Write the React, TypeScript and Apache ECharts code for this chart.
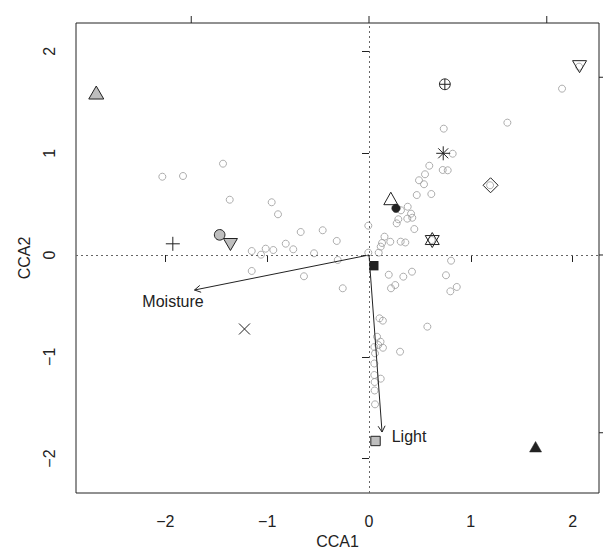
import React, { useEffect, useRef } from "react";
import * as echarts from "echarts";

// Axis ticks
const xTicks = [-2, -1, 0, 1, 2];
const yTicks = [-2, -1, 0, 1, 2];
// Biplot arrow scale ticks (top and right axes), in plot units
const biplotTicks = [-1.746, 0, 1.746];
const xMin = -2.878;
const xMax = 2.259;
const yMin = -2.338;
const yMax = 2.279;

// Site scores (grey open circles)
const siteX = [
  -2.030, -1.827, -1.434, -1.368, -0.956, -0.894, -0.671, -0.455, -0.317, -0.007,
  -0.818, -0.744, -0.540, -1.015, -0.940, -1.061, -1.152, -1.152, -0.639, -0.307,
  -0.007, 0.152, 0.209, 0.128, 0.115, 0.095, 0.272, 0.288, 0.311, 0.357,
  1.896, 1.359, 0.734, 0.822, 0.592, 0.550, 0.724, 0.773, 0.491, 0.540,
  0.469, 0.612, 0.380, 0.314, 0.413, 0.425, 0.376, 0.445, 0.806, 0.194,
  0.337, 0.422, 0.756, 0.862, 0.799, 0.216, 0.258, 0.573, -0.258, 0.103,
  0.136, 0.079, 0.113, 0.052, 0.137, 0.091, 0.059, 0.305, 0.052, 0.052,
  0.115, 0.055, 0.055, 0.059, 1.189, 0.616, 2.063,
];
const siteY = [
  0.769, 0.776, 0.897, 0.543, 0.518, 0.400, 0.226, 0.243, 0.138, 0.288,
  0.111, 0.056, 0.017, 0.062, 0.049, 0.003, 0.039, -0.157, -0.209, -0.049,
  0.023, 0.180, 0.130, 0.118, 0.082, 0.023, 0.311, 0.351, 0.131, 0.123,
  1.634, 1.300, 1.241, 0.995, 0.877, 0.793, 0.835, 0.832, 0.734, 0.695,
  0.589, 0.599, 0.474, 0.439, 0.406, 0.366, 0.357, 0.255, -0.056, -0.194,
  -0.213, -0.164, -0.199, -0.314, -0.357, -0.327, -0.295, -0.704, -0.327, -0.622,
  -0.645, -0.803, -0.852, -0.904, -0.911, -0.884, -0.966, -0.950, -1.066, -1.179,
  -1.215, -1.248, -1.331, -1.467, 0.685, 0.147, 1.850,
];

// Group centroids drawn with plotting symbols
const symX = [-2.679, 0.745, 2.068, 0.729, 1.194, 0.214, 0.265, 0.621, -1.927, -1.467, -1.361, 0.047, -1.223, 0.064, 1.636];
const symY = [1.596, 1.677, 1.850, 0.999, 0.685, 0.553, 0.459, 0.147, 0.110, 0.198, 0.103, -0.105, -0.727, -1.827, -1.886];
const symKind = ["pch24", "pch10", "pch6", "pch8", "pch5", "pch2", "pch16", "pch11", "pch3", "pch21", "pch25", "pch15", "pch4", "pch22", "pch17"];

// Environmental arrows
const envNames = ["Moisture", "Light"];
const envX = [-1.714, 0.128];
const envY = [-0.344, -1.739];
const envLabelX = [-1.925, 0.393];
const envLabelY = [-0.459, -1.786];

const ink = "#222222";
const greyFill = "#bebebe";
const FONT = "'Liberation Sans', Arial, Helvetica, sans-serif";
const FS = 16;

const fmt = (v: number) => (v < 0 ? "\u2212" + Math.abs(v) : String(v));

function symbolChildren(kind: string, cx: number, cy: number): any[] {
  const st = (fill: string) => ({ fill, stroke: ink, lineWidth: 1 });
  const ln = (x1: number, y1: number, x2: number, y2: number) => ({
    type: "line",
    shape: { x1, y1, x2, y2 },
    style: { stroke: ink, lineWidth: 1 },
  });
  switch (kind) {
    case "pch24":
      return [{ type: "polygon", shape: { points: [[cx, cy - 6.5], [cx + 7.5, cy + 6.5], [cx - 7.5, cy + 6.5]] }, style: st(greyFill) }];
    case "pch17":
      return [{ type: "polygon", shape: { points: [[cx, cy - 5.5], [cx + 6, cy + 5], [cx - 6, cy + 5]] }, style: { fill: ink, stroke: ink, lineWidth: 0.5 } }];
    case "pch2":
      return [{ type: "polygon", shape: { points: [[cx, cy - 6.5], [cx + 7, cy + 6], [cx - 7, cy + 6]] }, style: st("none") }];
    case "pch6":
      return [{ type: "polygon", shape: { points: [[cx, cy + 6], [cx + 7, cy - 6], [cx - 7, cy - 6]] }, style: st("none") }];
    case "pch25":
      return [{ type: "polygon", shape: { points: [[cx, cy + 6], [cx + 7, cy - 6], [cx - 7, cy - 6]] }, style: st(greyFill) }];
    case "pch21":
      return [{ type: "circle", shape: { cx, cy, r: 5.3 }, style: st(greyFill) }];
    case "pch16":
      return [{ type: "circle", shape: { cx, cy, r: 4.2 }, style: { fill: ink, stroke: ink, lineWidth: 0.5 } }];
    case "pch15":
      return [{ type: "rect", shape: { x: cx - 4.7, y: cy - 4.7, width: 9.4, height: 9.4 }, style: { fill: ink } }];
    case "pch22":
      return [{ type: "rect", shape: { x: cx - 4.7, y: cy - 4.7, width: 9.4, height: 9.4 }, style: st(greyFill) }];
    case "pch3":
      return [ln(cx - 7, cy, cx + 7, cy), ln(cx, cy - 7, cx, cy + 7)];
    case "pch4":
      return [ln(cx - 5.5, cy - 5.5, cx + 5.5, cy + 5.5), ln(cx - 5.5, cy + 5.5, cx + 5.5, cy - 5.5)];
    case "pch8":
      return [
        ln(cx - 7, cy, cx + 7, cy),
        ln(cx, cy - 7, cx, cy + 7),
        ln(cx - 5, cy - 5, cx + 5, cy + 5),
        ln(cx - 5, cy + 5, cx + 5, cy - 5),
      ];
    case "pch10":
      return [
        { type: "circle", shape: { cx, cy, r: 5.4 }, style: st("none") },
        ln(cx - 5.4, cy, cx + 5.4, cy),
        ln(cx, cy - 5.4, cx, cy + 5.4),
      ];
    case "pch5":
      return [{ type: "polygon", shape: { points: [[cx, cy - 7.5], [cx + 7.5, cy], [cx, cy + 7.5], [cx - 7.5, cy]] }, style: st("none") }];
    case "pch11":
      return [
        { type: "polygon", shape: { points: [[cx, cy - 7.5], [cx + 7, cy + 4.5], [cx - 7, cy + 4.5]] }, style: st("none") },
        { type: "polygon", shape: { points: [[cx, cy + 7.5], [cx + 7, cy - 4.5], [cx - 7, cy - 4.5]] }, style: st("none") },
      ];
    default:
      return [];
  }
}

export default function App() {
  const ref = useRef<HTMLDivElement>(null);

  useEffect(() => {
    if (!ref.current) return;
    const chart = echarts.init(ref.current, null, { renderer: "svg" });
    const axisText = { color: ink, fontSize: FS, fontFamily: FONT };

    chart.setOption({
      animation: false,
      backgroundColor: "#ffffff",
      grid: {
        left: 76,
        right: 4,
        top: 23,
        bottom: 63,
        show: true,
        borderColor: ink,
        borderWidth: 1,
        backgroundColor: "transparent",
        containLabel: false,
        outerBoundsMode: "none",
      },
      xAxis: {
        type: "value",
        position: "bottom",
        min: xMin,
        max: xMax,
        name: "CCA1",
        nameLocation: "middle",
        nameGap: 39,
        nameTextStyle: { ...axisText },
        axisLine: { show: false },
        splitLine: { show: false },
        axisTick: { show: true, length: 7, lineStyle: { color: ink }, customValues: xTicks },
        axisLabel: { ...axisText, margin: 20, formatter: fmt, customValues: xTicks },
      },
      yAxis: {
        type: "value",
        position: "left",
        min: yMin,
        max: yMax,
        name: "CCA2",
        nameLocation: "middle",
        nameGap: 44,
        nameTextStyle: { ...axisText },
        axisLine: { show: false },
        splitLine: { show: false },
        axisTick: { show: true, length: 7, lineStyle: { color: ink }, customValues: yTicks },
        axisLabel: { ...axisText, margin: 19, rotate: 90, formatter: fmt, customValues: yTicks },
      },
      series: [
        {
          type: "scatter",
          symbol: "circle",
          symbolSize: 7,
          itemStyle: { color: "rgba(255,255,255,0)", borderColor: "#9a9a9a", borderWidth: 1 },
          data: siteX.map((x, i) => [x, siteY[i]]),
          silent: true,
          markLine: {
            silent: true,
            symbol: ["none", "none"],
            label: { show: false },
            lineStyle: { color: "#666", width: 1, type: [2, 3] },
            data: [{ xAxis: 0 }, { yAxis: 0 }],
          },
          z: 2,
        },
        {
          // secondary (biplot) axes: top and right ticks
          type: "custom",
          silent: true,
          clip: false,
          z: 5,
          data: biplotTicks.map((t) => [t, t]),
          renderItem: (params: any, api: any) => {
            const t = biplotTicks[params.dataIndex];
            const top = api.coord([t, yMax]);
            const right = api.coord([xMax, t]);
            const s = { stroke: ink, lineWidth: 1 };
            return {
              type: "group",
              children: [
                { type: "line", shape: { x1: top[0], y1: top[1], x2: top[0], y2: top[1] - 7 }, style: s },
                { type: "line", shape: { x1: right[0], y1: right[1], x2: right[0] + 7, y2: right[1] }, style: s },
              ],
            };
          },
        },
        {
          type: "custom",
          silent: true,
          z: 3,
          data: envX.map((x, i) => [x, envY[i]]),
          renderItem: (params: any, api: any) => {
            const i = params.dataIndex;
            const o = api.coord([0, 0]);
            const h = api.coord([envX[i], envY[i]]);
            const ang = Math.atan2(h[1] - o[1], h[0] - o[0]);
            const L = 7;
            const a = Math.PI / 6;
            const p1 = [h[0] - L * Math.cos(ang - a), h[1] - L * Math.sin(ang - a)];
            const p2 = [h[0] - L * Math.cos(ang + a), h[1] - L * Math.sin(ang + a)];
            const lp = api.coord([envLabelX[i], envLabelY[i]]);
            return {
              type: "group",
              children: [
                { type: "line", shape: { x1: o[0], y1: o[1], x2: h[0], y2: h[1] }, style: { stroke: ink, lineWidth: 1 } },
                { type: "polyline", shape: { points: [p1, h, p2] }, style: { stroke: ink, fill: "none", lineWidth: 1 } },
                {
                  type: "text",
                  x: lp[0],
                  y: lp[1],
                  style: {
                    text: envNames[i],
                    fill: ink,
                    fontSize: FS,
                    fontFamily: FONT,
                    align: "center",
                    verticalAlign: "middle",
                  },
                },
              ],
            };
          },
        },
        {
          type: "custom",
          silent: true,
          z: 4,
          data: symX.map((x, i) => [x, symY[i]]),
          renderItem: (params: any, api: any) => {
            const i = params.dataIndex;
            const c = api.coord([symX[i], symY[i]]);
            return { type: "group", children: symbolChildren(symKind[i], c[0], c[1]) };
          },
        },
      ],
    });

    return () => {
      chart.dispose();
    };
  }, []);

  return (
    <div
      ref={ref}
      style={{ position: "absolute", left: 0, top: 0, width: 603, height: 556, background: "#fff" }}
    />
  );
}
